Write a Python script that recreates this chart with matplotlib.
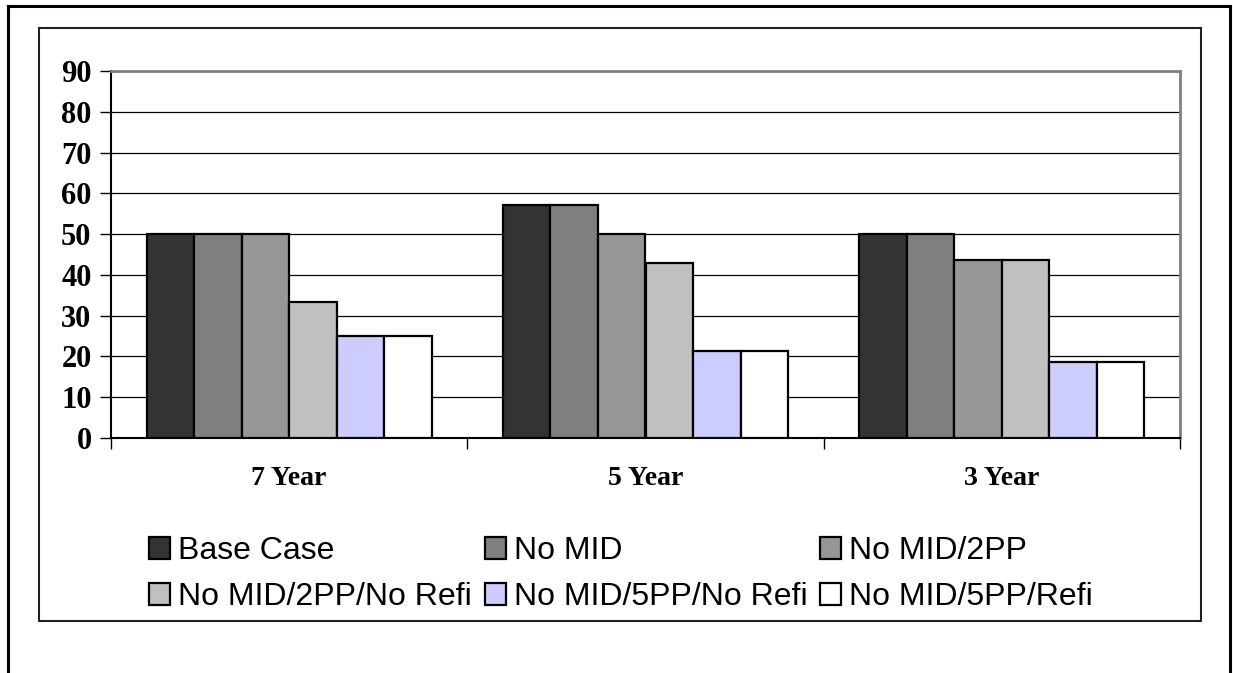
import matplotlib.pyplot as plt
from matplotlib.lines import Line2D
from matplotlib.patches import Rectangle
import numpy as np

# terms and scenarios
terms = ["7 Year", "5 Year", "3 Year"]
scenarios = [
    "Base Case",
    "No MID",
    "No MID/2PP",
    "No MID/2PP/No Refi",
    "No MID/5PP/No Refi",
    "No MID/5PP/Refi",
]
# one list per scenario, in term order
base_case = [50.0, 57.1, 50.0]
no_mid = [50.0, 57.1, 50.0]
no_mid_2pp = [50.0, 50.0, 43.75]
no_mid_2pp_norefi = [33.3, 42.9, 43.75]
no_mid_5pp_norefi = [25.0, 21.4, 18.75]
no_mid_5pp_refi = [25.0, 21.4, 18.75]
series = [base_case, no_mid, no_mid_2pp, no_mid_2pp_norefi,
          no_mid_5pp_norefi, no_mid_5pp_refi]
colors = ["#333333", "#808080", "#969696", "#c0c0c0", "#ccccff", "#ffffff"]

W, H = 1233, 673
fig = plt.figure(figsize=(W / 100, H / 100), dpi=100)

def fx(px):
    return px / W

def fy(py):
    return 1 - py / H

# page frame: top, left and right edges
for xs, ys in [((8, 1230), (6, 6)), ((8, 8), (6, 673)), ((1230, 1230), (6, 673))]:
    fig.add_artist(Line2D([fx(x) for x in xs], [fy(y) for y in ys],
                          color="black", lw=2.2))
# chart box
fig.add_artist(Rectangle((fx(39), fy(621)), fx(1201) - fx(39), fy(28) - fy(621),
                         fill=False, edgecolor="#222222", lw=1.5))

ax = fig.add_axes([fx(111), fy(438), fx(1180) - fx(111), fy(71) - fy(438)])

x = np.arange(len(terms))
width = 1 / 7.5
handles = []
for j, vals in enumerate(series):
    b = ax.bar(x + (j - 2.5) * width, vals, width, color=colors[j],
               edgecolor="black", linewidth=1.6, label=scenarios[j], zorder=3)
    handles.append(b)

ax.set_xlim(-0.5, 2.5)
ax.set_ylim(0, 90)
ax.set_yticks(range(0, 91, 10))
ax.yaxis.grid(True, color="black", lw=0.9, zorder=0)
ax.set_axisbelow(True)

ax.set_xticks(x)
ax.set_xticklabels(terms)
ax.set_xticks([-0.5, 0.5, 1.5, 2.5], minor=True)
ax.tick_params(axis="x", which="major", length=0, pad=20)
ax.tick_params(axis="x", which="minor", length=8, width=1, direction="out")
ax.tick_params(axis="y", length=8, width=1, direction="out", pad=6)

for lab in ax.get_yticklabels():
    lab.set_fontfamily("Liberation Serif")
    lab.set_fontweight("bold")
    lab.set_fontsize(22)
for lab in ax.get_xticklabels():
    lab.set_fontfamily("Liberation Serif")
    lab.set_fontweight("bold")
    lab.set_fontsize(20)

for side in ["left", "bottom"]:
    ax.spines[side].set_color("black")
    ax.spines[side].set_linewidth(1.5)
for side in ["top", "right"]:
    ax.spines[side].set_color("#808080")
    ax.spines[side].set_linewidth(2)

# legend, filled row by row
order = [0, 3, 1, 4, 2, 5]
leg = fig.legend([handles[i] for i in order], [scenarios[i] for i in order],
                 ncol=3, loc="upper left", bbox_to_anchor=(fx(149), fy(536)),
                 frameon=False, prop={"family": "Liberation Sans", "size": 23},
                 handlelength=0.66, handleheight=0.66, handletextpad=0.25,
                 columnspacing=0.4, labelspacing=0.5, borderpad=0,
                 borderaxespad=0)

fig.savefig("out.png", dpi=100)
